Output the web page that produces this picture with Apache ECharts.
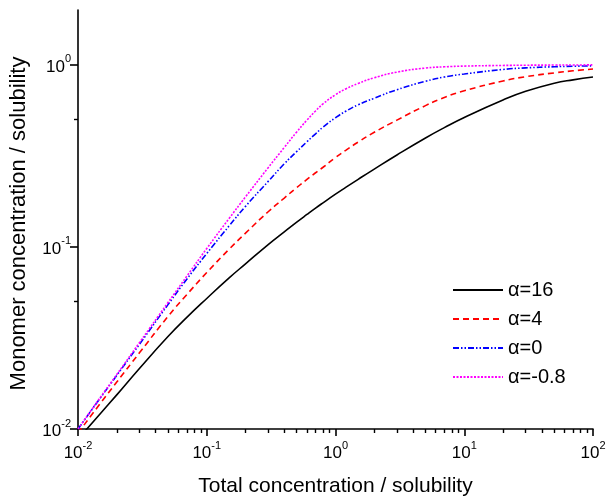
<!DOCTYPE html>
<html>
<head>
<meta charset="utf-8">
<script src="https://cdn.jsdelivr.net/npm/echarts@6/dist/echarts.min.js"></script>
<style>
html,body{margin:0;padding:0;background:#fff;}
#chart{width:607px;height:497px;}
</style>
</head>
<body>
<div id="chart"></div>
<script>
const xValues = [0.01,0.015,0.02,0.03,0.05,0.07,0.1,0.15,0.2,0.3,0.4,0.5,0.6,0.7,0.8,1,1.2,1.5,2,3,5,7,10,20,30,50,70,100];
const alpha16 = [0.0088,0.0122,0.0154,0.0215,0.0322,0.041,0.0521,0.0678,0.0807,0.103,0.121,0.1368,0.1507,0.1633,0.1746,0.1948,0.2122,0.2351,0.2676,0.3198,0.3964,0.452,0.514,0.641,0.715,0.792,0.827,0.857];
const alpha4 = [0.0095,0.0139,0.0181,0.0262,0.0415,0.0547,0.0723,0.0975,0.119,0.156,0.1855,0.2118,0.2347,0.2554,0.2738,0.3095,0.339,0.3765,0.426,0.497,0.597,0.662,0.72,0.815,0.86,0.903,0.927,0.948];
const alpha0 = [0.01,0.0149,0.0197,0.0292,0.0482,0.0665,0.092,0.131,0.167,0.229,0.286,0.334,0.378,0.418,0.455,0.512,0.556,0.603,0.655,0.73,0.812,0.857,0.89,0.943,0.962,0.976,0.982,0.987];
const alphaNeg08 = [0.01,0.015,0.0199,0.0298,0.0495,0.069,0.098,0.1441,0.1883,0.2723,0.3517,0.428,0.497,0.558,0.61,0.685,0.737,0.79,0.849,0.912,0.96,0.975,0.984,0.992,0.995,0.997,0.998,0.999];
const seriesNames = ['\u03b1=16','\u03b1=4','\u03b1=0','\u03b1=-0.8'];
const xMajorTicks = [0.01,0.1,1,10,100];
const xMinorTicks = [0.02,0.03,0.04,0.05,0.06,0.07,0.08,0.09,0.2,0.3,0.4,0.5,0.6,0.7,0.8,0.9,2,3,4,5,6,7,8,9,20,30,40,50,60,70,80,90];
const yMajorTicks = [0.01,0.1,1];
const yMinorTicks = [0.05,0.5];

const FONT = "'Liberation Sans', Arial, sans-serif";
function sci(v){
  const e = Math.round(Math.log10(v));
  return '{b|10}{s|' + e + '}';
}
const labelRich = {
  b:{fontSize:17,fontFamily:FONT,color:'#000',lineHeight:22,verticalAlign:'bottom'},
  s:{fontSize:11,fontFamily:FONT,color:'#000',lineHeight:12,verticalAlign:'top'}
};
function pairs(ys){ return xValues.map((x,i)=>[x,ys[i]]); }

const chart = echarts.init(document.getElementById('chart'), null, {renderer:'canvas'});
const axisLine = {show:true,lineStyle:{color:'#000',width:1.6}};
chart.setOption({
  backgroundColor:'#fff',
  animation:false,
  grid:{left:78,right:14,top:10,bottom:68,containLabel:false,outerBoundsMode:'none'},
  legend:{
    orient:'vertical',left:447,top:275,itemWidth:50,itemHeight:14,itemGap:9,
    itemStyle:{opacity:0},
    textStyle:{fontSize:20,fontFamily:FONT,color:'#000'},
    data:seriesNames
  },
  xAxis:[{
    type:'log',logBase:10,min:0.01,max:100,gridIndex:0,position:'bottom',
    axisLine:axisLine,
    axisTick:{show:true,length:7,inside:false,customValues:xMajorTicks,lineStyle:{color:'#000',width:1.6}},
    axisLabel:{show:true,margin:11,customValues:xMajorTicks,formatter:sci,rich:labelRich},
    splitLine:{show:false},minorTick:{show:false},
    name:'Total concentration / solubility',nameLocation:'middle',nameGap:47,
    nameTextStyle:{fontSize:21,fontFamily:FONT,color:'#000'}
  },{
    type:'log',logBase:10,min:0.01,max:100,gridIndex:0,position:'bottom',
    axisLine:{show:false},
    axisTick:{show:true,length:4,customValues:xMinorTicks,lineStyle:{color:'#000',width:1.4}},
    axisLabel:{show:false},splitLine:{show:false}
  }],
  yAxis:[{
    type:'log',logBase:10,min:0.01,max:2,gridIndex:0,position:'left',
    axisLine:axisLine,
    axisTick:{show:true,length:8,customValues:yMajorTicks,lineStyle:{color:'#000',width:1.6}},
    axisLabel:{show:true,margin:7,customValues:yMajorTicks,formatter:sci,rich:labelRich},
    splitLine:{show:false},
    name:'Monomer concentration / solubility',nameLocation:'middle',nameGap:48,
    nameTextStyle:{fontSize:22,fontFamily:FONT,color:'#000',padding:[0,8,0,0]}
  },{
    type:'log',logBase:10,min:0.01,max:2,gridIndex:0,position:'left',
    axisLine:{show:false},
    axisTick:{show:true,length:4,customValues:yMinorTicks,lineStyle:{color:'#000',width:1.4}},
    axisLabel:{show:false},splitLine:{show:false}
  }],
  series:[
    {name:seriesNames[0],type:'line',xAxisIndex:0,yAxisIndex:0,symbol:'none',smooth:true,clip:true,
     data:pairs(alpha16),lineStyle:{color:'#000000',width:1.6,type:'solid'},itemStyle:{color:'#000000'}},
    {name:seriesNames[1],type:'line',xAxisIndex:0,yAxisIndex:0,symbol:'none',smooth:true,clip:true,
     data:pairs(alpha4),lineStyle:{color:'#ff0000',width:1.6,type:[6,4]},itemStyle:{color:'#ff0000'}},
    {name:seriesNames[2],type:'line',xAxisIndex:0,yAxisIndex:0,symbol:'none',smooth:true,clip:true,
     data:pairs(alpha0),lineStyle:{color:'#0000ff',width:1.6,type:[6,2,1.5,2,1.5,2]},itemStyle:{color:'#0000ff'}},
    {name:seriesNames[3],type:'line',xAxisIndex:0,yAxisIndex:0,symbol:'none',smooth:true,clip:true,
     data:pairs(alphaNeg08),lineStyle:{color:'#ff00ff',width:1.6,type:[2,1.5]},itemStyle:{color:'#ff00ff'}}
  ]
});
</script>
</body>
</html>
